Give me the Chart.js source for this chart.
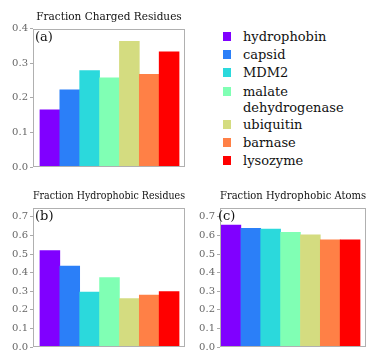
<!DOCTYPE html>
<html lang="en">
<head>
    <meta charset="UTF-8">
    <title>Protein Composition Fractions</title>
    <script src="https://cdn.jsdelivr.net/npm/chart.js"></script>
    <style>
        body { margin: 0; background: #fff; }
        .panel { position: absolute; }
        #legend { position: absolute; left: 223px; top: 28px; font-family: "DejaVu Serif", serif; font-size: 13px; color: #111; }
        #legend .row { display: flex; align-items: flex-start; line-height: 18px; }
        #legend .row.wrap { line-height: 16px; margin-top: 2px; }
        #legend .sw { width: 8px; height: 9px; margin-top: 4px; margin-right: 12px; flex: none; }
        #legend .row.wrap .sw { margin-top: 3px; }
    </style>
</head>
<body>
    <div class="panel" style="left:0; top:0; width:190px; height:175px;"><canvas id="chartA"></canvas></div>
    <div class="panel" style="left:0; top:180px; width:190px; height:175px;"><canvas id="chartB"></canvas></div>
    <div class="panel" style="left:187px; top:180px; width:187px; height:175px;"><canvas id="chartC"></canvas></div>
    <div id="legend"></div>

    <script>
        // proteins and their colours
        const proteins = ['hydrophobin', 'capsid', 'MDM2', 'malate dehydrogenase', 'ubiquitin', 'barnase', 'lysozyme'];
        const legendLines = [['hydrophobin'], ['capsid'], ['MDM2'], ['malate', 'dehydrogenase'], ['ubiquitin'], ['barnase'], ['lysozyme']];
        const colors = ['#8000ff', '#2b7ff8', '#2bd9dc', '#80ffb4', '#d4dc80', '#ff8046', '#ff0000'];

        // values
        const chargedResidues = [0.165, 0.223, 0.279, 0.258, 0.363, 0.268, 0.333];
        const hydrophobicResidues = [0.519, 0.435, 0.295, 0.374, 0.260, 0.280, 0.298];
        const hydrophobicAtoms = [0.656, 0.639, 0.634, 0.617, 0.604, 0.576, 0.576];

        const serif = '"DejaVu Serif", serif';

        // frame around the plot area plus the panel letter
        const framePlugin = {
            id: 'frame',
            afterDraw(chart, args, opts) {
                const a = chart.chartArea;
                const ctx = chart.ctx;
                ctx.save();
                ctx.strokeStyle = '#b0b0b0';
                ctx.lineWidth = 1;
                ctx.strokeRect(Math.round(a.left) + 0.5, Math.round(a.top) + 0.5,
                    Math.round(a.right - a.left) - 1, Math.round(a.bottom - a.top) - 1);
                ctx.fillStyle = '#111';
                ctx.font = '13px ' + serif;
                ctx.textBaseline = 'top';
                ctx.fillText(opts.letter, a.left + opts.dx, a.top + 3);
                ctx.restore();
            }
        };

        function makePanel(id, title, letter, values, maxY, xMin, xMax, pad, letterDx) {
            new Chart(document.getElementById(id), {
                type: 'bar',
                data: {
                    labels: proteins,
                    datasets: [{
                        data: values.map((v, i) => ({ x: i, y: v })),
                        backgroundColor: colors,
                        borderWidth: 0,
                        categoryPercentage: 1.0,
                        barPercentage: 1.0
                    }]
                },
                options: {
                    responsive: true,
                    maintainAspectRatio: false,
                    animation: false,
                    layout: { padding: { right: pad.right, bottom: pad.bottom } },
                    plugins: {
                        legend: { display: false },
                        tooltip: { enabled: false },
                        title: {
                            display: true,
                            fullSize: false,
                            text: title,
                            color: '#111',
                            font: { family: serif, size: 10.5, weight: 'normal' },
                            padding: { top: pad.title, bottom: 5 }
                        },
                        frame: { letter: letter, dx: letterDx }
                    },
                    scales: {
                        x: { type: 'linear', display: false, offset: false, min: xMin, max: xMax },
                        y: {
                            min: 0,
                            max: maxY,
                            border: { display: false },
                            grid: { drawOnChartArea: false, tickLength: 3, color: '#aaaaaa' },
                            ticks: {
                                stepSize: 0.1,
                                includeBounds: false,
                                padding: 2,
                                color: '#666',
                                font: { family: serif, size: 10 },
                                callback: v => v.toFixed(1)
                            },
                            afterFit(scale) { scale.width = 33; }
                        }
                    }
                },
                plugins: [framePlugin]
            });
        }

        makePanel('chartA', 'Fraction Charged Residues', '(a)', chargedResidues, 0.4, -0.85, 6.8, { right: 5, bottom: 0, title: 11 }, 2);
        makePanel('chartB', 'Fraction Hydrophobic Residues', '(b)', hydrophobicResidues, 0.75, -0.85, 6.8, { right: 5, bottom: 1, title: 10 }, 2);
        makePanel('chartC', 'Fraction Hydrophobic Atoms', '(c)', hydrophobicAtoms, 0.75, -0.55, 6.8, { right: 8, bottom: 1, title: 10 }, -2);

        // html legend
        const legend = document.getElementById('legend');
        legendLines.forEach((lines, i) => {
            const row = document.createElement('div');
            row.className = lines.length > 1 ? 'row wrap' : 'row';
            const sw = document.createElement('span');
            sw.className = 'sw';
            sw.style.background = colors[i];
            const txt = document.createElement('span');
            txt.innerHTML = lines.join('<br>');
            row.appendChild(sw);
            row.appendChild(txt);
            legend.appendChild(row);
        });
    </script>
</body>
</html>
